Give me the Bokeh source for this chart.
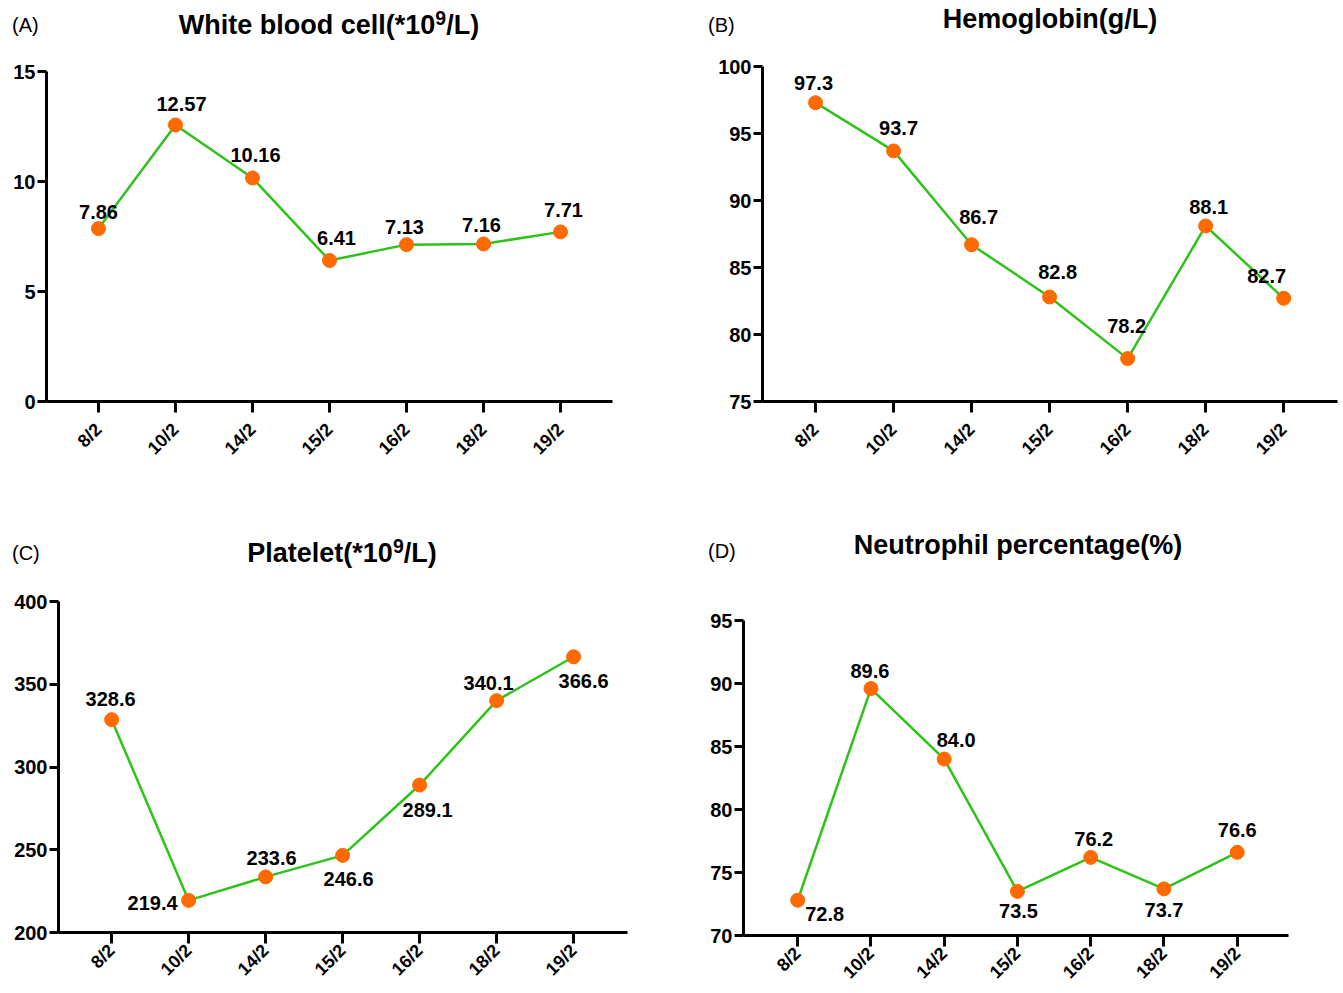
import math
from bokeh.plotting import figure
from bokeh.layouts import column, row
from bokeh.models import Range1d, FixedTicker, ColumnDataSource, Div
from bokeh.embed import file_html
from bokeh.resources import INLINE
from bokeh.core.properties import value

# ---------------- data ----------------
dates = ["8/2", "10/2", "14/2", "15/2", "16/2", "18/2", "19/2"]
wbc = [7.86, 12.57, 10.16, 6.41, 7.13, 7.16, 7.71]
hgb = [97.3, 93.7, 86.7, 82.8, 78.2, 88.1, 82.7]
plt_vals = [328.6, 219.4, 233.6, 246.6, 289.1, 340.1, 366.6]
neu = [72.8, 89.6, 84.0, 73.5, 76.2, 73.7, 76.6]

wbc_ticks = [0, 5, 10, 15]
hgb_ticks = [75, 80, 85, 90, 95, 100]
plt_ticks = [200, 250, 300, 350, 400]
neu_ticks = [70, 75, 80, 85, 90, 95]

titles = ["White blood cell(*10<sup>9</sup>/L)", "Hemoglobin(g/L)",
          "Platelet(*10<sup>9</sup>/L)", "Neutrophil percentage(%)"]
tags = ["(A)", "(B)", "(C)", "(D)"]

# ---------------- styles ----------------
FONT = "Liberation Sans"
LINE_COLOR = "#2EC21A"
DOT_COLOR = "#FF6A00"

# label offsets (screen px: dx right, dy down)
wbc_off = [(0, -17), (6, -21), (3, -23), (7, -22), (-2, -18), (-2, -19), (3, -22)]
hgb_off = [(-2, -20), (5, -23), (7, -28), (8, -25), (-1, -33), (3, -19), (-17, -22)]
plt_off = [(-1, -21), (-36, 3), (6, -19), (6, 24), (8, 25), (-8, -18), (10, 24)]
neu_off = [(27, 14), (-1, -18), (12, -19), (1, 20), (3, -18), (0, 21), (0, -22)]

SUP = '<sup style="font-size:0.72em;line-height:0;vertical-align:0.45em">'


def header(tag, title, width, height, tag_x, tag_y, title_x, title_y):
    html = (
        f'<div style="position:relative;width:{width}px;height:{height}px;'
        f"font-family:'{FONT}',Arial,sans-serif;color:black;\">"
        f'<span style="position:absolute;left:{tag_x}px;top:{tag_y}px;'
        f'transform:translateY(-50%);font-size:20px;line-height:1;'
        f'white-space:nowrap;">{tag}</span>'
        f'<span style="position:absolute;left:{title_x}px;top:{title_y}px;'
        f'transform:translate(-50%,-50%);font-size:27px;font-weight:bold;'
        f'line-height:1;white-space:nowrap;">'
        f'{title.replace("<sup>", SUP)}</span>'
        f'</div>'
    )
    return Div(text=html, width=width, height=height, margin=0)


def panel(vals, fmt, ticks, xr, width, height, borders, offsets, standoff):
    ml, mr, mt, mb = borders
    p = figure(width=width, height=height,
               x_range=Range1d(*xr), y_range=Range1d(ticks[0], ticks[-1]),
               output_backend="svg", toolbar_location=None,
               min_border_left=ml, min_border_right=mr,
               min_border_top=mt, min_border_bottom=mb)
    p.outline_line_color = None
    p.grid.visible = False
    p.background_fill_color = "white"
    p.border_fill_color = "white"

    xs = list(range(len(dates)))
    p.xaxis.ticker = FixedTicker(ticks=xs)
    p.xaxis.major_label_overrides = {i: d for i, d in enumerate(dates)}
    p.xaxis.major_label_orientation = math.pi / 4
    p.yaxis.ticker = FixedTicker(ticks=ticks)
    for ax in (p.xaxis, p.yaxis):
        ax.axis_line_width = 3
        ax.axis_line_color = "black"
        ax.major_tick_line_width = 3
        ax.major_tick_line_color = "black"
        ax.major_tick_in = 0
        ax.minor_tick_line_color = None
        ax.major_label_text_font = FONT
        ax.major_label_text_font_style = "bold"
        ax.major_label_text_color = "black"
    p.xaxis.major_tick_out = 11
    p.yaxis.major_tick_out = 9
    p.xaxis.major_label_text_font_size = "18px"
    p.yaxis.major_label_text_font_size = "20px"
    p.xaxis.major_label_standoff = standoff
    p.yaxis.major_label_standoff = 2

    labels = [fmt.format(v) for v in vals]
    src = ColumnDataSource(dict(
        x=xs, y=vals, t=labels,
        dx=[o[0] for o in offsets], dy=[o[1] for o in offsets]))
    p.line("x", "y", source=src, line_color=LINE_COLOR, line_width=2.5)
    p.scatter("x", "y", source=src, size=14, fill_color=DOT_COLOR,
              line_color=DOT_COLOR)
    p.text("x", "y", text="t", source=src, x_offset="dx", y_offset="dy",
           text_align="center", text_baseline="middle",
           text_font=value(FONT), text_font_style="bold",
           text_font_size="20px", text_color="black")
    return p


hA = header(tags[0], titles[0], 688, 50, 12, 25, 329, 25)
hB = header(tags[1], titles[1], 650, 50, 20, 25, 362, 19)
hC = header(tags[2], titles[2], 688, 90, 12, 65, 342, 65)
hD = header(tags[3], titles[3], 650, 90, 20, 63, 330, 57)

pA = panel(wbc, "{:.2f}", wbc_ticks, (-0.675, 6.675), 688, 438,
           (46, 76, 21, 87), wbc_off, 14)
pB = panel(hgb, "{:.1f}", hgb_ticks, (-0.68, 6.69), 650, 438,
           (74, 1, 16, 87), hgb_off, 14)
pC = panel(plt_vals, "{:.1f}", plt_ticks, (-0.69, 6.70), 688, 411,
           (58, 61, 23, 57), plt_off, 4)
pD = panel(neu, "{:.1f}", neu_ticks, (-0.74, 6.70), 650, 414,
           (55, 50, 42, 56), neu_off, 4)

layout = column(
    row(column(hA, pA, spacing=0), column(hB, pB, spacing=0), spacing=0),
    row(column(hC, pC, spacing=0), column(hD, pD, spacing=0), spacing=0),
    spacing=0)
open("out.html", "w").write(file_html(layout, INLINE))
